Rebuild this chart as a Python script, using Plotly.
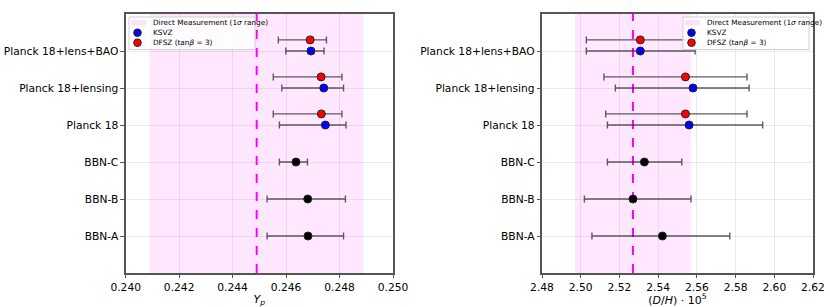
import plotly.graph_objects as go

categories = ["BBN-A", "BBN-B", "BBN-C", "Planck 18", "Planck 18+lensing", "Planck 18+lens+BAO"]

# Helium fraction Y_p
yp_direct = 0.2449
yp_direct_err = 0.0040
yp_bbn = [0.24682, 0.24681, 0.24637]
yp_bbn_plus = [0.00133, 0.00141, 0.00043]
yp_bbn_minus = [0.00153, 0.00152, 0.00062]
yp_ksvz = [0.24747, 0.24741, 0.24693]
yp_ksvz_plus = [0.00077, 0.00074, 0.00049]
yp_ksvz_minus = [0.00172, 0.00157, 0.00094]
yp_dfsz = [0.24732, 0.24731, 0.24690]
yp_dfsz_plus = [0.00077, 0.00078, 0.00061]
yp_dfsz_minus = [0.00180, 0.00179, 0.00119]

# Deuterium (D/H)*1e5
dh_direct = 2.527
dh_direct_err = 0.030
dh_bbn = [2.5422, 2.5270, 2.5329]
dh_bbn_plus = [0.0348, 0.0300, 0.0193]
dh_bbn_minus = [0.0364, 0.0251, 0.0191]
dh_ksvz = [2.5560, 2.5580, 2.5308]
dh_ksvz_plus = [0.0380, 0.0290, 0.0283]
dh_ksvz_minus = [0.0422, 0.0401, 0.0279]
dh_dfsz = [2.5541, 2.5541, 2.5308]
dh_dfsz_plus = [0.0318, 0.0318, 0.0283]
dh_dfsz_minus = [0.0412, 0.0421, 0.0279]

yp_ticks = [0.240, 0.242, 0.244, 0.246, 0.248, 0.250]
dh_ticks = [2.48, 2.50, 2.52, 2.54, 2.56, 2.58, 2.60, 2.62]

legend_labels = ["Direct Measurement (1<i>σ</i> range)", "KSVZ", "DFSZ (tan<i>β</i> = 3)"]
legend_colors = ["rgba(255,0,255,0.09)", "#0000ff", "#ff0000"]

FONT = "DejaVu Sans"
idx_bbn = [0, 1, 2]
idx_planck = [3, 4, 5]
dfsz_offset = 0.3
ylo, yhi = -1, 6

W, H = 830, 307
ML, MR, MT, MB = 125, 17, 14, 34
PW, PH = W - ML - MR, H - MT - MB


def px(xp):
    return (xp - ML) / PW


def py(yp):
    return (H - MB - yp) / PH


fig = go.Figure()
ebar_color = "rgba(40,40,40,0.75)"
MS = 8


def add_panel(xa, ya, direct, derr, bbn, bp, bm, ks, kp, km, df, dp, dm):
    fig.add_trace(go.Scatter(
        x=[direct - derr, direct + derr, direct + derr, direct - derr, direct - derr],
        y=[ylo, ylo, yhi, yhi, ylo], mode="lines", fill="toself",
        fillcolor=legend_colors[0], line=dict(width=0),
        showlegend=False, xaxis=xa, yaxis=ya, hoverinfo="skip"))
    fig.add_trace(go.Scatter(
        x=[direct, direct], y=[ylo, yhi], mode="lines",
        line=dict(color="#ff00ff", width=2, dash="dash"),
        showlegend=False, xaxis=xa, yaxis=ya))
    for vals, p, m, ys, col in [
        (ks, kp, km, idx_planck, legend_colors[1]),
        (df, dp, dm, [i + dfsz_offset for i in idx_planck], legend_colors[2]),
        (bbn, bp, bm, idx_bbn, "#000000"),
    ]:
        fig.add_trace(go.Scatter(
            x=vals, y=ys, mode="markers", showlegend=False,
            marker=dict(color=col, size=MS, line=dict(color="#222", width=1)),
            error_x=dict(type="data", symmetric=False, array=p, arrayminus=m,
                         color=ebar_color, thickness=1.4, width=3.5),
            xaxis=xa, yaxis=ya))


add_panel("x", "y", yp_direct, yp_direct_err, yp_bbn, yp_bbn_plus, yp_bbn_minus,
          yp_ksvz, yp_ksvz_plus, yp_ksvz_minus, yp_dfsz, yp_dfsz_plus, yp_dfsz_minus)
add_panel("x2", "y2", dh_direct, dh_direct_err, dh_bbn, dh_bbn_plus, dh_bbn_minus,
          dh_ksvz, dh_ksvz_plus, dh_ksvz_minus, dh_dfsz, dh_dfsz_plus, dh_dfsz_minus)

# manual compact legends (matplotlib-like)
shapes = []
annotations = []
for bx in [129, 683]:
    shapes.append(dict(type="rect", xref="paper", yref="paper",
                       x0=px(bx), x1=px(bx + 126), y0=py(49.5), y1=py(17),
                       fillcolor="rgba(255,255,255,0.85)", line=dict(color="#d0d0d0", width=1),
                       layer="above"))
    rows = [22.7, 32.7, 42.7]
    shapes.append(dict(type="rect", xref="paper", yref="paper",
                       x0=px(bx + 2), x1=px(bx + 17), y0=py(rows[0] + 2.7), y1=py(rows[0] - 2.7),
                       fillcolor="rgba(255,0,255,0.12)", line=dict(width=0), layer="above"))
    for r, col in zip(rows[1:], legend_colors[1:]):
        shapes.append(dict(type="circle", xref="paper", yref="paper",
                           xsizemode="pixel", ysizemode="pixel",
                           xanchor=px(bx + 8.5), yanchor=py(r),
                           x0=-3.8, x1=3.8, y0=-3.8, y1=3.8,
                           fillcolor=col, line=dict(color="#222", width=1), layer="above"))
    for r, lab in zip(rows, legend_labels):
        annotations.append(dict(xref="paper", yref="paper", x=px(bx + 21.5), y=py(r),
                                xanchor="left", yanchor="middle", showarrow=False,
                                text=lab, font=dict(size=7.3, family=FONT, color="#000")))

axis_common = dict(showline=True, linecolor="#555555", linewidth=1.5, mirror=True,
                   ticks="outside", ticklen=3.5, tickcolor="#555555",
                   showgrid=True, gridcolor="rgba(0,0,0,0.08)", gridwidth=1,
                   zeroline=False, tickfont=dict(size=10.7, color="#000", family=FONT))

xdom1 = [px(125.7), px(393)]
xdom2 = [px(542), px(813)]

fig.update_layout(
    width=W, height=H,
    margin=dict(l=ML, r=MR, t=MT, b=MB, autoexpand=False),
    paper_bgcolor="white", plot_bgcolor="white",
    font=dict(family=FONT, color="#000"),
    showlegend=False,
    shapes=shapes, annotations=annotations,
    xaxis=dict(domain=xdom1, range=[yp_ticks[0], yp_ticks[-1]],
               tickvals=yp_ticks, ticktext=[f"{v:.3f}" for v in yp_ticks],
               title=dict(text="<i>Y</i><sub><i>p</i></sub>", font=dict(size=11), standoff=2),
               anchor="y", **axis_common),
    yaxis=dict(domain=[0, 1], range=[ylo, yhi], tickvals=list(range(len(categories))),
               ticktext=categories, anchor="x", **axis_common),
    xaxis2=dict(domain=xdom2, range=[dh_ticks[0], dh_ticks[-1]],
                tickvals=dh_ticks, ticktext=[f"{v:.2f}" for v in dh_ticks],
                title=dict(text="(<i>D</i>/<i>H</i>) · 10<sup>5</sup>", font=dict(size=11), standoff=3),
                anchor="y2", **axis_common),
    yaxis2=dict(domain=[0, 1], range=[ylo, yhi], tickvals=list(range(len(categories))),
                ticktext=categories, anchor="x2", **axis_common),
)

fig.write_html("out.html", config={"displayModeBar": False},
               post_script="document.body.style.margin='0';document.body.style.overflow='hidden';")
